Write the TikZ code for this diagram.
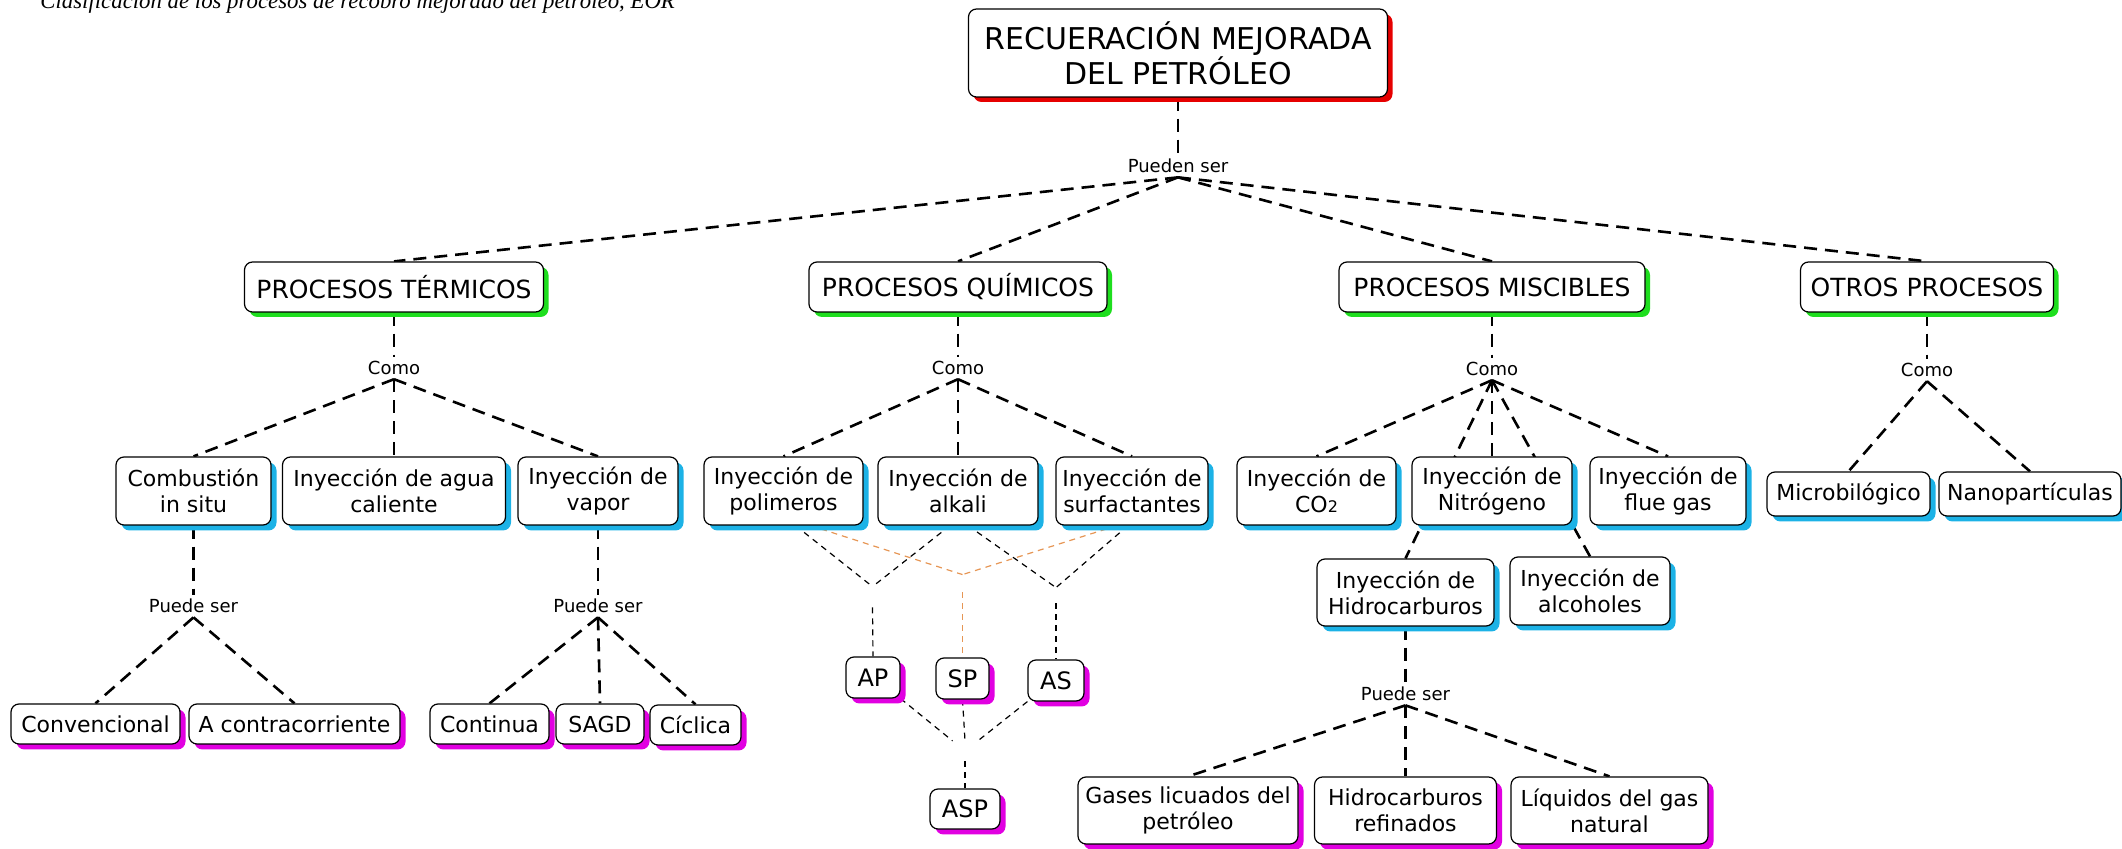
\documentclass[tikz,border=0pt]{standalone}
\usepackage{fontspec}
\setmainfont{DejaVu Sans}
\newfontfamily\capfont{Liberation Serif}
\usetikzlibrary{shadows,calc}
\pgfdeclarelayer{bg}
\pgfsetlayers{bg,main}
\definecolor{cred}{RGB}{230,0,0}
\definecolor{cgreen}{RGB}{30,222,30}
\definecolor{ccyan}{RGB}{28,178,230}
\definecolor{cmag}{RGB}{225,0,225}
\definecolor{corange}{RGB}{230,150,85}
\newcommand\topfnt{\fontsize{15pt}{17.5pt}\selectfont}
\newcommand\lvlfnt{\fontsize{12.5pt}{14pt}\selectfont}
\newcommand\nodfnt{\fontsize{11pt}{13pt}\selectfont}
\newcommand\abfnt{\fontsize{12pt}{14pt}\selectfont}
\newcommand\lblfnt{\fontsize{9pt}{10pt}\selectfont}
\begin{document}
\begin{tikzpicture}[x=0.5pt,y=-0.5pt,
  box/.style={draw=black, line width=0.6pt, rounded corners=4pt, fill=white,
    inner xsep=2pt, inner ysep=2pt, align=center, font=\nodfnt},
  wh/.style 2 args={minimum width=#1*0.5pt, minimum height=#2*0.5pt},
  shR/.style={drop shadow={shadow xshift=2.5pt, shadow yshift=-2.5pt, fill=cred, opacity=1}},
  shG/.style={drop shadow={shadow xshift=2.5pt, shadow yshift=-2.5pt, fill=cgreen, opacity=1}},
  shC/.style={drop shadow={shadow xshift=2.75pt, shadow yshift=-2.75pt, fill=ccyan, opacity=1}},
  shM/.style={drop shadow={shadow xshift=2.75pt, shadow yshift=-2.75pt, fill=cmag, opacity=1}},
  lbl/.style={inner sep=2pt, font=\lblfnt},
  junc/.style={inner sep=0pt, minimum width=#1},
  conn/.style={line width=1.3pt, dash pattern=on 6.5pt off 4pt},
  thinc/.style={line width=0.6pt, dash pattern=on 3pt off 2.5pt},
]
\useasboundingbox (0,0) rectangle (2122,849);
\node[anchor=base west, inner sep=0pt, font=\capfont\itshape\fontsize{11.4pt}{13pt}\selectfont] (cap) at (40,9)
  {Clasificación de los procesos de recobro mejorado del petróleo, EOR};

% top
\node[box, shR, wh={419}{88}, font=\topfnt] (top) at (1178,53) {RECUERACIÓN MEJORADA\\DEL PETRÓLEO};
\node[lbl] (pueden) at (1178,166) {Pueden ser};

% level 1
\node[box, shG, wh={299}{50}, font=\lvlfnt] (term) at (394,287) {PROCESOS TÉRMICOS};
\node[box, shG, wh={298}{50}, font=\lvlfnt] (quim) at (958,287) {PROCESOS QUÍMICOS};
\node[box, shG, wh={306}{50}, font=\lvlfnt] (misc) at (1492,287) {PROCESOS MISCIBLES};
\node[box, shG, wh={253}{50}, font=\lvlfnt] (otros) at (1927,287) {OTROS PROCESOS};

\node[lbl] (como1) at (394,368) {Como};
\node[lbl] (como2) at (958,368) {Como};
\node[lbl] (como3) at (1492,369) {Como};
\node[lbl] (como4) at (1927,370) {Como};

% level 2
\node[box, shC, wh={155}{68}] (comb) at (193.5,491) {Combustión\\in situ};
\node[box, shC, wh={223}{68}] (agua) at (394,491) {Inyección de agua\\caliente};
\node[box, shC, wh={160}{68}] (vapor) at (598,491) {Inyección de\\vapor};
\node[box, shC, wh={159}{68}] (poli) at (783.5,491) {Inyección de\\polimeros};
\node[box, shC, wh={160}{68}] (alkali) at (958,491) {Inyección de\\alkali};
\node[box, shC, wh={152}{68}] (surf) at (1132,491) {Inyección de\\surfactantes};
\node[box, shC, wh={159}{68}] (co2) at (1316.5,491) {Inyección de\\CO{\fontsize{8pt}{8pt}\selectfont 2}};
\node[box, shC, wh={160}{68}] (nitro) at (1492,491) {Inyección de\\Nitrógeno};
\node[box, shC, wh={156}{68}] (flue) at (1668,491) {Inyección de\\flue gas};
\node[box, shC, wh={163}{44}] (micro) at (1848.5,494) {Microbilógico};
\node[box, shC, wh={182}{44}] (nano) at (2030,494) {Nanopartículas};
\node[box, shC, wh={177}{67}] (hidro) at (1405.5,592.5) {Inyección de\\Hidrocarburos};
\node[box, shC, wh={160}{68}] (alco) at (1590,591) {Inyección de\\alcoholes};

\node[lbl] (puede1) at (193.5,606) {Puede ser};
\node[lbl] (puede2) at (598,606) {Puede ser};
\node[lbl] (puede3) at (1405.5,694) {Puede ser};

% level 3
\node[box, shM, wh={169}{40}] (conv) at (95.5,724) {Convencional};
\node[box, shM, wh={211}{40}] (contra) at (294.5,724) {A contracorriente};
\node[box, shM, wh={119}{40}] (contin) at (489.5,724) {Continua};
\node[box, shM, wh={88}{40}] (sagd) at (600,724) {SAGD};
\node[box, shM, wh={91}{40}] (cicl) at (695.5,725) {Cíclica};

\node[box, shM, wh={54}{41}, font=\abfnt] (ap) at (873,677.5) {AP};
\node[box, shM, wh={53}{41}, font=\abfnt] (sp) at (962.5,678.5) {SP};
\node[box, shM, wh={56}{41}, font=\abfnt] (as) at (1056,680.5) {AS};
\node[box, shM, wh={70}{40}, font=\abfnt] (asp) at (965,809) {ASP};

\node[junc=1pt, minimum height=10pt] (j1) at (872.5,597) {};
\node[junc=1pt, minimum height=8.5pt] (j2) at (962.5,583.5) {};
\node[junc=1pt, minimum height=7.5pt] (j3) at (1056,595.5) {};
\node[junc=12pt, minimum height=10pt] (j4) at (965,751) {};

\node[box, shM, wh={220}{67}] (gases) at (1188,810.5) {Gases licuados del\\petróleo};
\node[box, shM, wh={182}{67}] (refin) at (1405.5,810.5) {Hidrocarburos\\refinados};
\node[box, shM, wh={197}{67}] (liq) at (1609.5,810.5) {Líquidos del gas\\natural};

\begin{pgfonlayer}{bg}
  \draw[conn] (top) -- (pueden);
  \foreach \t in {term,quim,misc,otros} \draw[conn] (pueden.south) -- (\t.north);
  \draw[conn] (term) -- (como1);
  \draw[conn] (quim) -- (como2);
  \draw[conn] (misc) -- (como3);
  \draw[conn] (otros) -- (como4);
  \foreach \t in {comb,agua,vapor} \draw[conn] (como1.south) -- (\t.north);
  \foreach \t in {poli,alkali,surf} \draw[conn] (como2.south) -- (\t.north);
  \foreach \t in {co2,nitro,flue,hidro,alco} \draw[conn] (como3.south) -- (\t.north);
  \foreach \t in {micro,nano} \draw[conn] (como4.south) -- (\t.north);
  \draw[conn] (comb) -- (puede1);
  \foreach \t in {conv,contra} \draw[conn] (puede1.south) -- (\t.north);
  \draw[conn] (vapor) -- (puede2);
  \foreach \t in {contin,sagd,cicl} \draw[conn] (puede2.south) -- (\t.north);
  \draw[conn] (hidro) -- (puede3);
  \foreach \t in {gases,refin,liq} \draw[conn] (puede3.south) -- (\t.north);
  % chemical combinations
  \draw[thinc] ($(poli.south)+(12,0)$) -- (j1.north);
  \draw[thinc] ($(alkali.south)+(-8,0)$) -- (j1.north);
  \draw[thinc] (j1.south) -- (ap.north);
  \draw[thinc, draw=corange] ($(poli.south)+(27,0)$) -- (j2.north);
  \draw[thinc, draw=corange] ($(surf.south)+(-15,0)$) -- (j2.north);
  \draw[thinc, draw=corange] (j2.south) -- (sp.north);
  \draw[thinc] ($(alkali.south)+(10,0)$) -- (j3.north);
  \draw[thinc] ($(surf.south)+(-4,0)$) -- (j3.north);
  \draw[thinc] (j3.south) -- (as.north);
  \draw[thinc] (ap.south east) -- (j4);
  \draw[thinc] (as.south west) -- (j4);
  \draw[thinc] (sp.south) -- (j4.north);
  \draw[thinc] (j4.south) -- (asp.north);
\end{pgfonlayer}
\end{tikzpicture}
\end{document}
